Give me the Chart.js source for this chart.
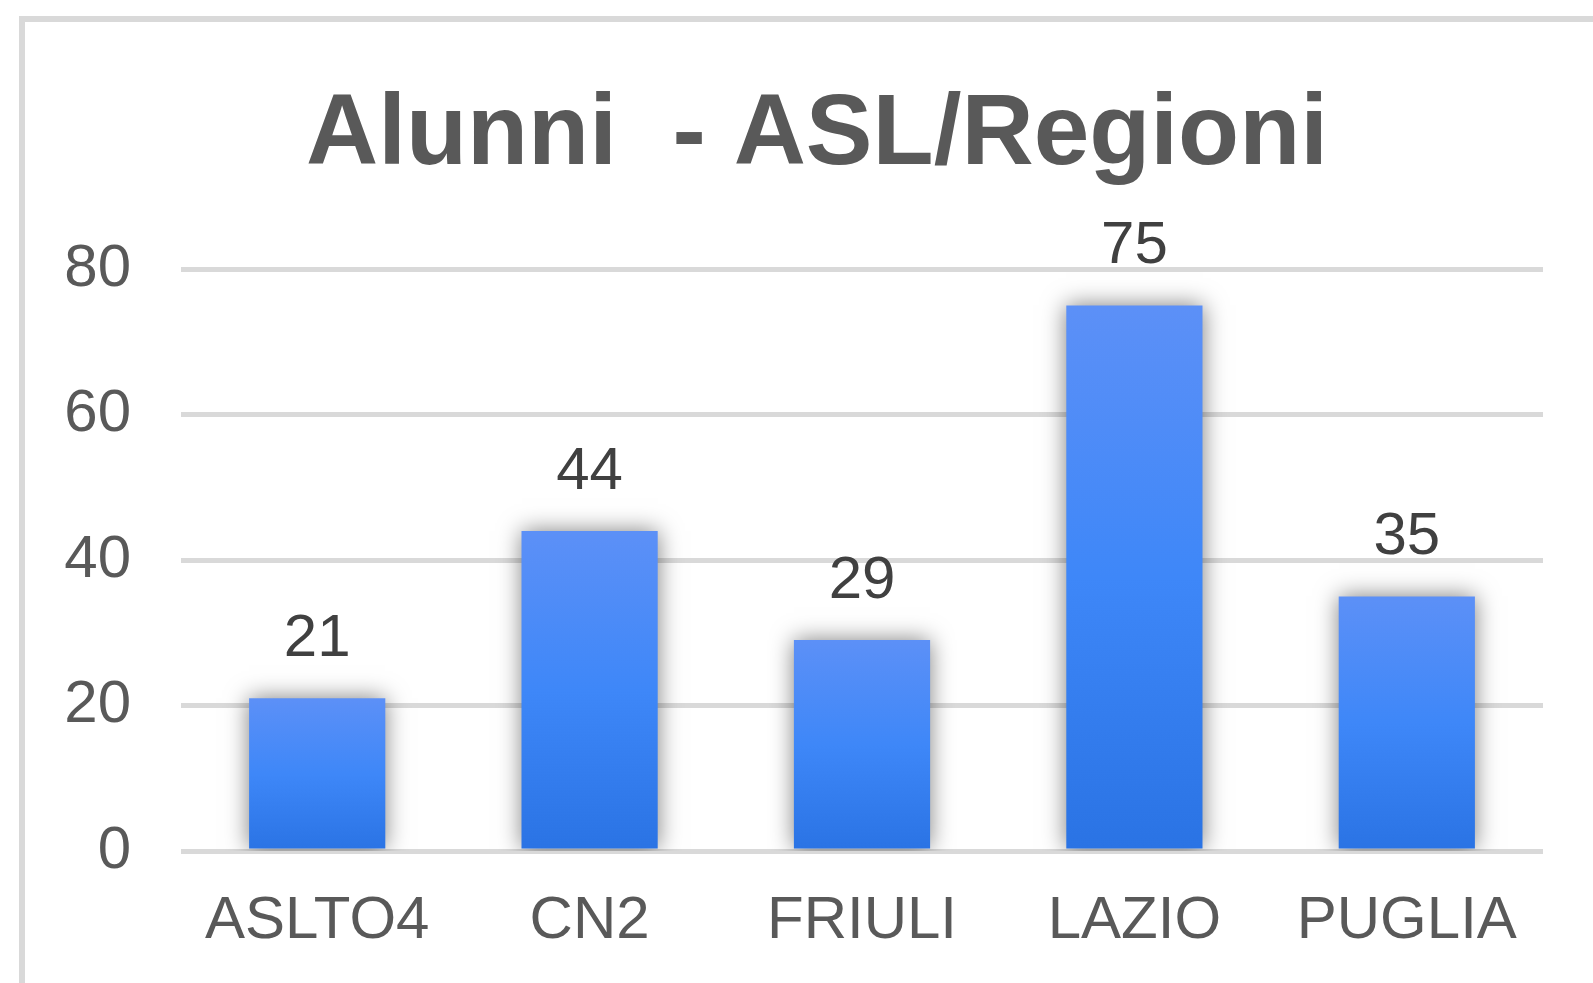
<!DOCTYPE html>
<html>
<head>
<meta charset="utf-8">
<script src="https://cdn.jsdelivr.net/npm/chart.js@4"></script>
<style>
    html, body { margin: 0; padding: 0; background: #fff; overflow: hidden; width: 1593px; height: 983px; }
    .frame { position: absolute; left: 19px; top: 16px; width: 2000px; height: 2000px; border: 6px solid #d9d9d9; }
    .wrap { position: absolute; left: 25px; top: 22px; width: 1568px; height: 961px; }
</style>
</head>
<body>
<div class="frame"></div>
<div class="wrap"><canvas id="chart"></canvas></div>
<script>
const categories = ['ASLTO4', 'CN2', 'FRIULI', 'LAZIO', 'PUGLIA']
const alunni = [21, 44, 29, 75, 35]
const yTicks = [0, 20, 40, 60, 80]

const font = "'Liberation Sans', Arial, sans-serif"

// vertical gradient per bar, light on top
const barColor = (ctx) => {
    const chart = ctx.chart
    if (!chart.chartArea || ctx.type !== 'data') return '#3d86f8'
    const y = chart.scales.y
    const top = y.getPixelForValue(ctx.raw)
    const bottom = y.getPixelForValue(0)
    const g = chart.ctx.createLinearGradient(0, top, 0, bottom)
    g.addColorStop(0, 'rgb(92,144,247)')
    g.addColorStop(0.5, 'rgb(62,135,248)')
    g.addColorStop(1, 'rgb(42,115,228)')
    return g
}

const barShadow = {
    id: 'barShadow',
    beforeDatasetDraw(chart) {
        const c = chart.ctx
        c.save()
        c.shadowColor = 'rgba(0,0,0,0.5)'
        c.shadowBlur = 22
    },
    afterDatasetDraw(chart) {
        chart.ctx.restore()
    }
}

const valueLabels = {
    id: 'valueLabels',
    afterDatasetsDraw(chart) {
        const c = chart.ctx
        const meta = chart.getDatasetMeta(0)
        c.save()
        c.font = `60px ${font}`
        c.fillStyle = '#404040'
        c.textAlign = 'center'
        c.textBaseline = 'alphabetic'
        meta.data.forEach((bar, i) => {
            c.fillText(String(alunni[i]), bar.x, bar.y - 42)
        })
        c.restore()
    }
}

// the title sits a bit right of the canvas centre in the original
const titleShift = {
    id: 'titleShift',
    afterLayout(chart) {
        const t = chart.titleBlock
        if (!t) return
        t.left += 33
        t.right += 33
    }
}

new Chart(document.getElementById('chart'), {
    type: 'bar',
    data: {
        labels: categories,
        datasets: [{
            label: 'Alunni',
            data: alunni,
            backgroundColor: barColor,
            borderWidth: 0,
            barPercentage: 0.5,
            categoryPercentage: 1
        }]
    },
    options: {
        responsive: true,
        maintainAspectRatio: false,
        animation: false,
        layout: {
            padding: { left: 0, right: 50, top: 0, bottom: 0 }
        },
        plugins: {
            legend: { display: false },
            tooltip: { enabled: false },
            title: {
                display: true,
                text: 'Alunni  - ASL/Regioni',
                color: '#595959',
                font: { family: font, size: 100, weight: 'bold', lineHeight: 1.2 },
                padding: { top: 54, bottom: 73 }
            }
        },
        scales: {
            x: {
                grid: { display: false },
                border: { display: false },
                ticks: {
                    color: '#595959',
                    font: { family: font, size: 60 },
                    padding: 26,
                    maxRotation: 0
                },
                afterFit: (s) => { s.height = 132 }
            },
            y: {
                min: yTicks[0],
                max: yTicks[yTicks.length - 1],
                afterBuildTicks: (s) => { s.ticks = yTicks.map(v => ({ value: v })) },
                grid: { color: '#d9d9d9', lineWidth: 5, drawTicks: false },
                border: { display: false },
                ticks: {
                    color: '#595959',
                    font: { family: font, size: 60 },
                    padding: 50
                },
                afterFit: (s) => { s.width = 156 }
            }
        }
    },
    plugins: [barShadow, valueLabels, titleShift]
})
</script>
</body>
</html>
